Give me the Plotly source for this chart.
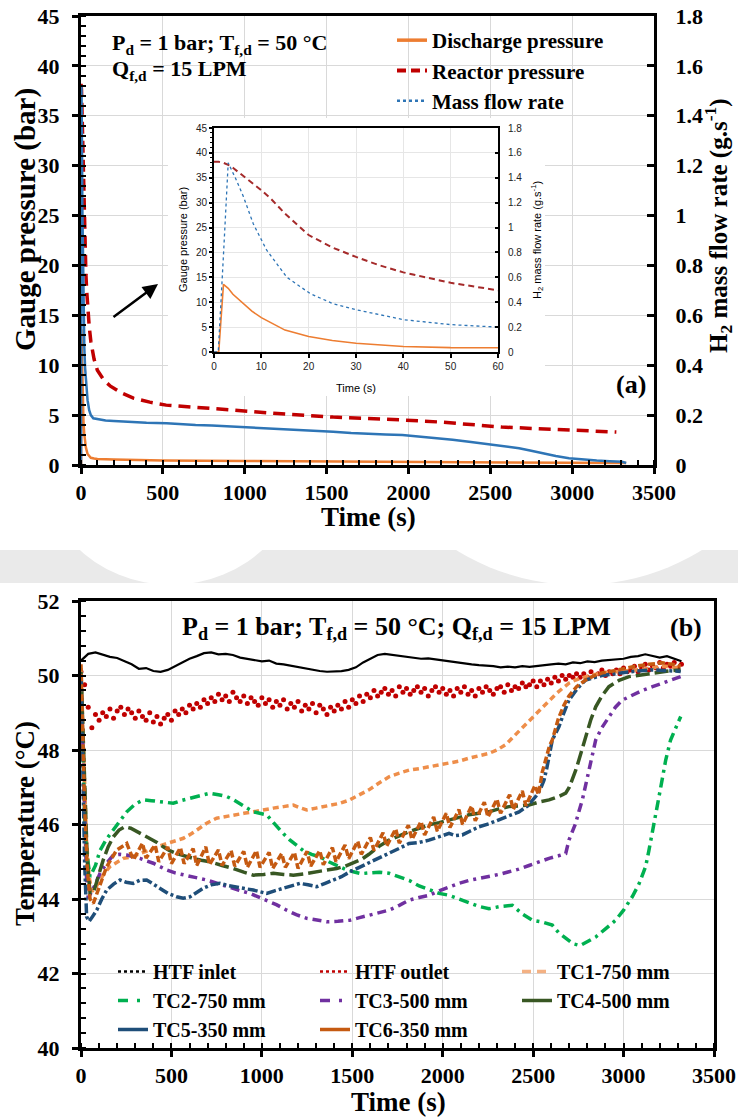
import plotly.graph_objects as go

# ---------------- panel (a): pressures and H2 mass flow ----------------
t_dis = [0, 1, 2, 3, 4, 6, 8, 10, 15, 20, 25, 30, 40, 50, 60, 80, 100, 200, 300, 500,
         1000, 1500, 2000, 2500, 3000, 3330]
p_dis = [0, 0, 13.6, 12.8, 11.6, 9.9, 8.2, 6.9, 4.4, 3.1, 2.3, 1.75, 1.1, 0.87, 0.72, 0.65, 0.6, 0.55, 0.5, 0.45,
         0.4, 0.35, 0.3, 0.27, 0.24, 0.2]

t_reac = [0, 1, 2, 3, 4, 6, 8, 10, 12, 15, 20, 25, 30, 35, 40, 50, 60, 80, 100, 140,
          180, 250, 320, 420, 520, 700, 930, 1200, 1540, 1860, 2200, 2570, 2900, 3270]
p_reac = [38.2, 38.2, 38.0, 37.6, 37.0, 35.5, 34.0, 32.5, 30.8, 27.8, 23.5, 21.0, 19.1, 17.4, 16.0, 13.9, 12.4, 10.6, 9.5, 8.5,
          7.9, 7.2, 6.7, 6.3, 6.0, 5.75, 5.5, 5.15, 4.8, 4.6, 4.3, 3.8, 3.55, 3.3]

t_flow = [0, 0.9, 2, 3, 4.5, 6.2, 8.3, 11.1, 15.4, 20.3, 25, 30, 40, 50, 60, 75, 100, 150, 200, 250,
          300, 400, 523, 600, 700, 800, 930, 1050, 1200, 1350, 1540, 1650, 1760, 1860, 1963, 2070, 2170, 2270, 2370, 2450,
          2530, 2600, 2676, 2750, 2830, 2900, 2981, 3060, 3150, 3230, 3305, 3330]
m_flow = [0, 0, 0.78, 1.52, 1.4, 1.25, 1.03, 0.82, 0.60, 0.47, 0.39, 0.34, 0.26, 0.22, 0.20, 0.187, 0.183, 0.178, 0.176, 0.174,
          0.172, 0.169, 0.167, 0.163, 0.160, 0.158, 0.154, 0.150, 0.145, 0.140, 0.133, 0.128, 0.124, 0.122, 0.120, 0.114, 0.108, 0.101, 0.093, 0.087,
          0.081, 0.074, 0.067, 0.057, 0.045, 0.036, 0.027, 0.022, 0.018, 0.015, 0.013, 0.008]

# ---------------- panel (b): temperatures ----------------
t_inlet = list(range(0, 3321, 40))
T_inlet = [50.40, 50.58, 50.62, 50.55, 50.50, 50.47, 50.38, 50.30, 50.18, 50.20,
           50.12, 50.10, 50.15, 50.25, 50.35, 50.45, 50.52, 50.60, 50.62, 50.57,
           50.58, 50.55, 50.48, 50.45, 50.40, 50.38, 50.40, 50.32, 50.30, 50.26,
           50.22, 50.18, 50.15, 50.12, 50.10, 50.10, 50.12, 50.15, 50.22, 50.35,
           50.45, 50.55, 50.58, 50.55, 50.52, 50.50, 50.48, 50.45, 50.46, 50.43,
           50.40, 50.38, 50.35, 50.32, 50.30, 50.28, 50.27, 50.25, 50.22, 50.24,
           50.22, 50.25, 50.23, 50.26, 50.28, 50.30, 50.32, 50.30, 50.35, 50.33,
           50.38, 50.36, 50.40, 50.42, 50.44, 50.45, 50.50, 50.52, 50.57, 50.52,
           50.48, 50.52, 50.45, 50.38]

t_outlet = list(range(0, 3321, 20))
T_outlet = [50.10, 49.75, 49.15, 48.60, 48.95, 48.80, 49.00, 48.90, 49.10, 48.85,
            49.05, 49.15, 48.95, 49.10, 49.00, 48.85, 49.05, 48.90, 48.80, 49.00,
            48.75, 48.90, 48.70, 48.85, 48.95, 48.80, 49.05, 48.95, 49.10, 49.00,
            49.20, 49.10, 49.25, 49.15, 49.35, 49.25, 49.40, 49.30, 49.50, 49.35,
            49.45, 49.30, 49.55, 49.40, 49.30, 49.45, 49.25, 49.40, 49.30, 49.20,
            49.40, 49.25, 49.35, 49.15, 49.30, 49.20, 49.35, 49.10, 49.25, 49.15,
            49.30, 49.05, 49.20, 49.10, 49.25, 49.00, 49.20, 49.10, 48.95, 49.15,
            49.05, 49.20, 49.10, 49.30, 49.15, 49.35, 49.25, 49.45, 49.30, 49.50,
            49.40, 49.60, 49.45, 49.55, 49.65, 49.50, 49.60, 49.45, 49.70, 49.55,
            49.65, 49.50, 49.60, 49.70, 49.55, 49.65, 49.45, 49.60, 49.70, 49.55,
            49.65, 49.50, 49.60, 49.45, 49.65, 49.55, 49.70, 49.50, 49.60, 49.45,
            49.65, 49.55, 49.70, 49.60, 49.50, 49.65, 49.70, 49.55, 49.75, 49.60,
            49.70, 49.65, 49.80, 49.70, 49.75, 49.85, 49.70, 49.85, 49.75, 49.90,
            49.80, 49.95, 49.85, 50.00, 49.90, 50.00, 49.95, 50.05, 49.95, 50.05,
            49.95, 50.10, 50.00, 50.05, 50.15, 50.00, 50.10, 50.05, 50.15, 50.05,
            50.20, 50.10, 50.15, 50.25, 50.10, 50.20, 50.30, 50.15, 50.25, 50.20,
            50.35, 50.20, 50.30, 50.25, 50.35, 50.20, 50.30]

t_tc1 = [0, 10, 20, 30, 45, 60, 80, 105, 130, 160,
         200, 234, 270, 308, 345, 382, 430, 474, 520, 566,
         610, 658, 700, 750, 800, 842, 900, 953, 1010, 1063,
         1120, 1174, 1210, 1248, 1300, 1340, 1390, 1432, 1480, 1524,
         1560, 1592, 1650, 1703, 1760, 1814, 1870, 1924, 1980, 2035,
         2090, 2145, 2200, 2256, 2300, 2350, 2400, 2450, 2514, 2550,
         2588, 2625, 2661, 2700, 2735, 2800, 2882, 2970, 3069, 3150,
         3230, 3316]
T_tc1 = [50.2, 48.5, 46.8, 45.6, 44.6, 44.2, 44.3, 44.5, 44.7, 44.87,
         45.0, 45.09, 45.12, 45.18, 45.25, 45.32, 45.42, 45.49, 45.56, 45.63,
         45.75, 45.9, 46.05, 46.17, 46.22, 46.26, 46.3, 46.34, 46.4, 46.44,
         46.48, 46.52, 46.45, 46.39, 46.44, 46.48, 46.52, 46.57, 46.65, 46.75,
         46.85, 46.93, 47.12, 47.28, 47.38, 47.46, 47.5, 47.55, 47.6, 47.64,
         47.7, 47.78, 47.84, 47.91, 48.0, 48.15, 48.4, 48.65, 48.95, 49.15,
         49.32, 49.5, 49.65, 49.8, 49.88, 49.98, 50.07, 50.1, 50.15, 50.2,
         50.25, 50.2]

t_tc2 = [0, 10, 20, 30, 50, 80, 105, 140, 177, 215,
         253, 300, 345, 390, 437, 475, 510, 560, 621, 670,
         713, 760, 806, 845, 879, 915, 953, 990, 1027, 1055,
         1082, 1120, 1156, 1190, 1229, 1275, 1321, 1370, 1414, 1460,
         1506, 1550, 1592, 1650, 1703, 1760, 1814, 1870, 1924, 1980,
         2035, 2090, 2145, 2200, 2256, 2320, 2385, 2440, 2495, 2550,
         2606, 2640, 2680, 2720, 2760, 2800, 2846, 2900, 2956, 3000,
         3048, 3085, 3122, 3140, 3159, 3178, 3196, 3215, 3233, 3260,
         3290, 3316]
T_tc2 = [50.0, 48.0, 46.2, 45.3, 44.6, 44.9, 45.3, 45.6, 45.85, 46.1,
         46.34, 46.55, 46.66, 46.64, 46.61, 46.58, 46.57, 46.65, 46.73, 46.8,
         46.84, 46.8, 46.75, 46.66, 46.57, 46.45, 46.34, 46.3, 46.26, 46.1,
         45.94, 45.75, 45.58, 45.45, 45.3, 45.2, 45.13, 45.0, 44.9, 44.8,
         44.73, 44.68, 44.7, 44.72, 44.69, 44.6, 44.5, 44.35, 44.24, 44.15,
         44.1, 44.0, 43.88, 43.8, 43.74, 43.8, 43.83, 43.6, 43.43, 43.38,
         43.3, 43.1, 42.95, 42.8, 42.75, 42.85, 42.98, 43.2, 43.43, 43.7,
         44.06, 44.4, 44.87, 45.3, 45.76, 46.25, 46.75, 47.25, 47.73, 48.27,
         48.6, 48.9]

t_tc3 = [0, 10, 20, 30, 40, 60, 80, 105, 140, 179,
         215, 253, 290, 326, 363, 400, 437, 474, 520, 566,
         630, 695, 750, 806, 870, 934, 980, 1027, 1080, 1137,
         1190, 1248, 1300, 1358, 1420, 1487, 1540, 1592, 1650, 1703,
         1760, 1814, 1870, 1924, 1980, 2035, 2090, 2145, 2200, 2256,
         2310, 2366, 2420, 2477, 2530, 2588, 2640, 2680, 2698, 2716,
         2735, 2753, 2772, 2790, 2809, 2828, 2846, 2880, 2919, 2955,
         2993, 3050, 3104, 3160, 3214, 3260, 3316]
T_tc3 = [50.0, 48.2, 46.0, 44.6, 44.02, 44.2, 44.4, 44.69, 44.95, 45.18,
         45.2, 45.18, 45.14, 45.09, 45.02, 44.96, 44.87, 44.78, 44.7, 44.64,
         44.58, 44.51, 44.42, 44.33, 44.24, 44.15, 44.06, 43.97, 43.85, 43.7,
         43.58, 43.48, 43.43, 43.39, 43.4, 43.43, 43.5, 43.56, 43.62, 43.7,
         43.83, 43.97, 44.04, 44.1, 44.22, 44.33, 44.42, 44.5, 44.55, 44.6,
         44.66, 44.73, 44.8, 44.9, 45.0, 45.09, 45.16, 45.22, 45.58, 45.8,
         46.03, 46.35, 46.66, 47.05, 47.46, 47.88, 48.27, 48.6, 48.9, 49.15,
         49.34, 49.48, 49.6, 49.7, 49.79, 49.88, 49.97]

t_tc4 = [0, 10, 20, 35, 50, 68, 95, 123, 150, 179,
         210, 243, 275, 308, 345, 382, 420, 455, 490, 529,
         575, 621, 665, 713, 780, 842, 900, 953, 1010, 1063,
         1120, 1174, 1240, 1303, 1360, 1414, 1460, 1506, 1550, 1592,
         1650, 1703, 1760, 1814, 1870, 1924, 1980, 2035, 2090, 2145,
         2200, 2256, 2310, 2366, 2420, 2477, 2530, 2588, 2640, 2680,
         2700, 2716, 2735, 2753, 2770, 2790, 2818, 2846, 2880, 2919,
         2975, 3030, 3100, 3177, 3250, 3316]
T_tc4 = [50.1, 48.5, 46.8, 45.0, 44.16, 44.15, 44.6, 45.05, 45.4, 45.67,
         45.85, 45.94, 45.9, 45.81, 45.72, 45.63, 45.52, 45.4, 45.3, 45.22,
         45.15, 45.09, 45.04, 45.0, 44.9, 44.82, 44.72, 44.64, 44.66, 44.69,
         44.66, 44.64, 44.68, 44.73, 44.78, 44.82, 44.88, 44.96, 45.06, 45.2,
         45.42, 45.58, 45.7, 45.81, 45.9, 45.99, 46.05, 46.12, 46.2, 46.26,
         46.3, 46.34, 46.42, 46.48, 46.5, 46.52, 46.6, 46.66, 46.75, 46.84,
         47.0, 47.19, 47.45, 47.73, 48.0, 48.36, 48.8, 49.16, 49.45, 49.7,
         49.87, 49.97, 50.02, 50.07, 50.12, 50.15]

t_tc5 = [0, 10, 20, 31, 45, 60, 87, 115, 142, 180,
         216, 250, 289, 325, 363, 400, 437, 480, 529, 565,
         603, 640, 676, 720, 768, 815, 861, 905, 953, 990,
         1027, 1070, 1119, 1165, 1211, 1255, 1303, 1350, 1395, 1440,
         1487, 1540, 1592, 1650, 1703, 1760, 1814, 1870, 1924, 1980,
         2035, 2070, 2108, 2150, 2201, 2255, 2311, 2365, 2422, 2470,
         2514, 2540, 2560, 2575, 2588, 2606, 2625, 2643, 2670, 2698,
         2745, 2790, 2880, 2975, 3070, 3159, 3240, 3316]
T_tc5 = [50.0, 47.5, 45.0, 43.52, 43.4, 43.5, 43.7, 44.0, 44.24, 44.4,
         44.51, 44.45, 44.42, 44.5, 44.51, 44.4, 44.29, 44.15, 44.06, 44.02,
         44.06, 44.18, 44.29, 44.38, 44.42, 44.36, 44.33, 44.28, 44.24, 44.2,
         44.15, 44.22, 44.29, 44.36, 44.42, 44.38, 44.33, 44.42, 44.51, 44.6,
         44.73, 44.85, 44.96, 45.1, 45.22, 45.36, 45.49, 45.52, 45.58, 45.68,
         45.76, 45.7, 45.72, 45.82, 45.94, 46.02, 46.12, 46.22, 46.34, 46.5,
         46.75, 46.95, 47.19, 47.5, 47.82, 48.27, 48.45, 48.63, 49.0, 49.34,
         49.65, 49.88, 50.0, 50.07, 50.12, 50.15, 50.13, 50.11]

t_tc6 = [0, 10, 20, 35, 50, 68, 100, 142, 197, 253,
         290, 340, 360, 410, 430, 480, 500, 550, 570, 620,
         640, 690, 710, 760, 780, 830, 850, 900, 920, 970,
         990, 1040, 1060, 1110, 1130, 1180, 1200, 1250, 1270, 1320,
         1340, 1390, 1410, 1460, 1480, 1530, 1550, 1600, 1620, 1670,
         1690, 1740, 1760, 1810, 1830, 1880, 1900, 1950, 1970, 2020,
         2040, 2090, 2110, 2160, 2180, 2230, 2250, 2300, 2320, 2370,
         2390, 2440, 2460, 2510, 2530, 2550, 2569, 2590, 2606, 2625,
         2640, 2670, 2698, 2740, 2790, 2840, 2882, 2970, 3067, 3140,
         3214, 3270, 3316]
T_tc6 = [50.3, 48.5, 46.5, 44.8, 44.0, 43.88, 44.3, 44.87, 45.31, 45.49,
         45.05, 45.5, 45.1, 45.45, 45.0, 45.4, 44.95, 45.38, 44.95, 45.35,
         44.9, 45.4, 44.92, 45.32, 44.9, 45.3, 44.88, 45.28, 44.85, 45.3,
         44.85, 45.25, 44.82, 45.22, 44.85, 45.25, 44.82, 45.28, 44.88, 45.3,
         44.92, 45.38, 45.0, 45.45, 45.08, 45.55, 45.2, 45.65, 45.3, 45.78,
         45.42, 45.88, 45.5, 45.98, 45.6, 46.08, 45.72, 46.2, 45.82, 46.3,
         45.92, 46.4, 46.0, 46.5, 46.1, 46.6, 46.2, 46.68, 46.3, 46.8,
         46.4, 46.9, 46.5, 47.05, 46.8, 47.4, 47.73, 48.1, 48.27, 48.6,
         48.85, 49.2, 49.45, 49.7, 49.88, 50.0, 50.07, 50.15, 50.25, 50.3,
         50.34, 50.3, 50.25]

# colours
ORANGE = "#ED7D31"
DKRED = "#C00000"
BLUE = "#2E75B6"
SERIF = "Liberation Serif"
SANS = "Liberation Sans"

# plot area on the page: x 81..714, y 16..1048
def px(x):
    return (x - 81) / 633.0

def py(y):
    return (1048 - y) / 1032.0

fig = go.Figure()

# main panel (a)
fig.add_trace(go.Scatter(x=t_dis, y=p_dis, mode="lines", line=dict(color=ORANGE, width=2.5),
                         showlegend=False, xaxis="x", yaxis="y"))
fig.add_trace(go.Scatter(x=t_reac, y=p_reac, mode="lines", line=dict(color=DKRED, width=3.5, dash="12px,7px"),
                         showlegend=False, xaxis="x", yaxis="y"))
fig.add_trace(go.Scatter(x=t_flow, y=m_flow, mode="lines", line=dict(color=BLUE, width=2.5),
                         showlegend=False, xaxis="x", yaxis="y3"))

# white box behind the inset (covers main grid)
fig.add_trace(go.Scatter(x=[None], y=[None], showlegend=False, xaxis="x3", yaxis="y4"))

# inset
fig.add_trace(go.Scatter(x=t_dis, y=p_dis, mode="lines", line=dict(color=ORANGE, width=1.6),
                         showlegend=False, xaxis="x4", yaxis="y5"))
fig.add_trace(go.Scatter(x=t_reac, y=p_reac, mode="lines", line=dict(color="#A52A2A", width=2, dash="6px,4px"),
                         showlegend=False, xaxis="x4", yaxis="y5"))
fig.add_trace(go.Scatter(x=t_flow, y=m_flow, mode="lines", line=dict(color=BLUE, width=1.3, dash="dot"),
                         showlegend=False, xaxis="x4", yaxis="y6"))

# legend entries panel (a)
for name, ln in [("Discharge pressure", dict(color=ORANGE, width=3.5)),
                 ("Reactor pressure", dict(color=DKRED, width=4, dash="9px,5px")),
                 ("Mass flow rate", dict(color=BLUE, width=2.5, dash="dot"))]:
    fig.add_trace(go.Scatter(x=[None], y=[None], mode="lines", line=ln, name=name,
                             legend="legend", xaxis="x", yaxis="y"))

# panel (b)
fig.add_trace(go.Scatter(x=t_inlet, y=T_inlet, mode="lines", line=dict(color="black", width=2.2),
                         showlegend=False, xaxis="x2", yaxis="y2"))
fig.add_trace(go.Scatter(x=t_outlet, y=T_outlet, mode="markers", marker=dict(color=DKRED, size=5),
                         showlegend=False, xaxis="x2", yaxis="y2"))

tc_styles = [
    (t_tc1, T_tc1, "#EE8E4A", "6px,4px"),
    (t_tc2, T_tc2, "#00B050", "10px,5px,3px,5px"),
    (t_tc3, T_tc3, "#7030A0", "9px,5px,3px,5px"),
    (t_tc4, T_tc4, "#385723", "14px,5px"),
    (t_tc5, T_tc5, "#1F4E79", "10px,3px,3px,3px"),
    (t_tc6, T_tc6, "#C55A11", "7px,3px"),
]
for tx, ty, col, dash in tc_styles:
    fig.add_trace(go.Scatter(x=tx, y=ty, mode="lines", line=dict(color=col, width=3.5, dash=dash),
                             showlegend=False, xaxis="x2", yaxis="y2"))

leg_b = [
    ("HTF inlet", dict(color="black", width=2.5, dash="dot")),
    ("HTF outlet", dict(color=DKRED, width=2.5, dash="dot")),
    ("TC1-750 mm", dict(color="#F4B183", width=3.5, dash="9px,6px")),
    ("TC2-750 mm", dict(color="#00B050", width=3.5, dash="10px,9px,3px,9px")),
    ("TC3-500 mm", dict(color="#7030A0", width=3.5, dash="10px,9px,3px,9px")),
    ("TC4-500 mm", dict(color="#385723", width=3.5)),
    ("TC5-350 mm", dict(color="#1F4E79", width=3.5)),
    ("TC6-350 mm", dict(color="#C55A11", width=3.5)),
]
for name, ln in leg_b:
    fig.add_trace(go.Scatter(x=[None], y=[None], mode="lines", line=ln, name=name,
                             legend="legend2", xaxis="x2", yaxis="y2"))

tickf = dict(family=SERIF, size=22, color="black", weight="bold")
insf = dict(family=SANS, size=10, color="#222222")
GRID = "#D9D9D9"

main_x = dict(range=[0, 3500], dtick=500, showline=True, linewidth=3, linecolor="black", mirror=True,
              ticks="outside", ticklen=6, tickwidth=2.5, tickcolor="black",
              minor=dict(dtick=100, ticks="inside", ticklen=5, tickwidth=2, tickcolor="black", showgrid=False),
              showgrid=True, gridcolor=GRID, gridwidth=1, zeroline=False, tickfont=tickf,
              ticklabelstandoff=0, automargin=False, ticklabeloverflow="allow")

fig.update_layout(
    template="none",
    width=738, height=1120,
    margin=dict(l=81, r=24, t=16, b=72, autoexpand=False),
    paper_bgcolor="white", plot_bgcolor="white",
    xaxis=dict(main_x, domain=[0, px(654)], anchor="y"),
    yaxis=dict(domain=[py(465), 1], range=[0, 45], dtick=5, anchor="x",
               showline=True, linewidth=3, linecolor="black",
               ticks="outside", ticklen=6, tickwidth=2.5, tickcolor="black",
               minor=dict(dtick=1, ticks="inside", ticklen=5, tickwidth=2, tickcolor="black", showgrid=False),
               showgrid=True, gridcolor=GRID, zeroline=False, tickfont=tickf, ticklabelstandoff=8,
               automargin=False, ticklabeloverflow="allow"),
    yaxis3=dict(overlaying="y", side="right", anchor="x", range=[0, 1.8], dtick=0.2,
                showline=True, linewidth=3, linecolor="black", ticks="inside", ticklen=7, tickwidth=2.5,
                tickcolor="black", showgrid=False, zeroline=False, tickfont=tickf, ticklabelstandoff=14,
                automargin=False, ticklabeloverflow="allow"),
    xaxis2=dict(main_x, domain=[0, 1], anchor="y2"),
    yaxis2=dict(domain=[0, py(601)], range=[40, 52], dtick=2, anchor="x2",
                showline=True, linewidth=3, linecolor="black", mirror=True,
                ticks="outside", ticklen=6, tickwidth=2.5, tickcolor="black",
                minor=dict(dtick=0.4, ticks="inside", ticklen=5, tickwidth=2, tickcolor="black", showgrid=False),
                showgrid=True, gridcolor=GRID, zeroline=False, tickfont=tickf, ticklabelstandoff=8,
                automargin=False, ticklabeloverflow="allow"),
    xaxis3=dict(domain=[px(168), px(545)], anchor="y4", visible=False, range=[0, 1]),
    yaxis4=dict(domain=[py(396), py(118)], anchor="x3", visible=False, range=[0, 1]),
    xaxis4=dict(domain=[px(214), px(498)], anchor="y5", range=[0, 60], dtick=10,
                showline=True, linewidth=2, linecolor="black", mirror=True,
                ticks="outside", ticklen=4, tickwidth=1.5, tickcolor="black",
                showgrid=True, gridcolor="#E6E6E6", zeroline=False, tickfont=insf, automargin=False),
    yaxis5=dict(domain=[py(352), py(128)], anchor="x4", range=[0, 45], dtick=5,
                showline=True, linewidth=2, linecolor="black",
                ticks="outside", ticklen=3, tickwidth=1.5, tickcolor="black",
                minor=dict(dtick=1, ticks="outside", ticklen=2.5, tickwidth=1, tickcolor="black", showgrid=False),
                showgrid=True, gridcolor="#E6E6E6", zeroline=False, tickfont=insf, automargin=False),
    yaxis6=dict(overlaying="y5", side="right", anchor="x4", range=[0, 1.8], dtick=0.2,
                showline=True, linewidth=2, linecolor="black", ticks="inside", ticklen=3, tickwidth=1.5,
                tickcolor="black", showgrid=False, zeroline=False, tickfont=insf, ticklabelstandoff=6,
                automargin=False),
    legend=dict(x=px(392), y=py(20), xanchor="left", yanchor="top", bgcolor="rgba(0,0,0,0)",
                font=dict(family=SERIF, size=21, color="black", weight="bold"), itemwidth=30),
    legend2=dict(orientation="h", x=px(113), y=py(952), xanchor="left", yanchor="top",
                 bgcolor="rgba(0,0,0,0)", entrywidth=157, entrywidthmode="pixels", itemwidth=30,
                 font=dict(family=SERIF, size=20, color="black", weight="bold")),
)

# faint watermark band between the two panels
fig.add_shape(type="rect", xref="paper", yref="paper", x0=px(0), x1=px(738), y0=py(583), y1=py(550),
              fillcolor="#EAEAEA", line_width=0, layer="below")
fig.add_shape(type="circle", xref="paper", yref="paper", x0=px(34), x1=px(308), y0=py(585), y1=py(311),
              fillcolor="white", line_width=0, layer="below")
fig.add_shape(type="circle", xref="paper", yref="paper", x0=px(345), x1=px(813), y0=py(585), y1=py(117),
              fillcolor="white", line_width=0, layer="below")

titlef = dict(family=SERIF, size=27, color="black", weight="bold")
txtf = dict(family=SERIF, size=22, color="black", weight="bold")
ann = [
    dict(text="Time (s)", x=px(368), y=py(517), font=titlef),
    dict(text="Gauge pressure (bar)", x=px(25), y=py(220), textangle=-90, font=dict(titlef, size=29)),
    dict(text="H<sub>2</sub> mass flow rate (g.s<sup>-1</sup>)", x=px(718), y=py(226), textangle=-90,
         font=dict(titlef, size=25)),
    dict(text="Time (s)", x=px(398), y=py(1102), font=titlef),
    dict(text="Temperature (°C)", x=px(25), y=py(824), textangle=-90, font=titlef),
    dict(text="P<sub>d</sub> = 1 bar; T<sub>f,d</sub> = 50 °C", x=px(110), y=py(44), xanchor="left", font=txtf),
    dict(text="Q<sub>f,d</sub> = 15 LPM", x=px(110), y=py(70), xanchor="left", font=txtf),
    dict(text="(a)", x=px(631), y=py(385), font=dict(titlef, size=26)),
    dict(text="P<sub>d</sub> = 1 bar; T<sub>f,d</sub> = 50 °C; Q<sub>f,d</sub> = 15 LPM", x=px(396), y=py(628),
         font=dict(txtf, size=26)),
    dict(text="(b)", x=px(686), y=py(628), font=dict(titlef, size=26)),
    dict(text="Time (s)", x=px(356), y=py(388), font=dict(family=SANS, size=11, color="black")),
    dict(text="Gauge pressure (bar)", x=px(183), y=py(240), textangle=-90,
         font=dict(family=SANS, size=11, color="black")),
    dict(text="H<sub>2</sub> mass flow rate (g.s<sup>-1</sup>)", x=px(537), y=py(240), textangle=-90,
         font=dict(family=SANS, size=11, color="black")),
]
for a in ann:
    a.setdefault("xref", "paper")
    a.setdefault("yref", "paper")
    a.setdefault("xanchor", "center")
    a.setdefault("yanchor", "middle")
    a.setdefault("showarrow", False)
fig.update_layout(annotations=ann)

# arrow pointing at the inset
fig.add_annotation(x=px(158), y=py(284), xref="paper", yref="paper", text="", showarrow=True,
                   ax=-46, ay=34, arrowhead=2, arrowsize=1.2, arrowwidth=2.5, arrowcolor="black")

# drop the browser's default 8px body margin so the figure sits at the page corner
fig.write_html("out.html", config={"displayModeBar": False},
               post_script="document.body.style.margin = '0';")
